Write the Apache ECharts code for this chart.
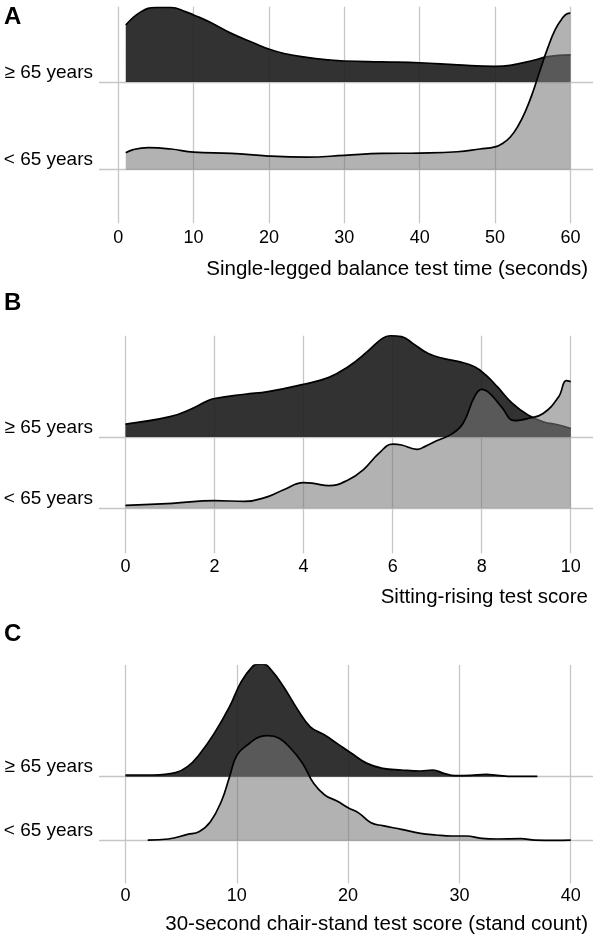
<!DOCTYPE html>
<html><head><meta charset="utf-8">
<script src="https://cdn.jsdelivr.net/npm/echarts@6.0.0/dist/echarts.min.js"></script>
<style>html,body{margin:0;padding:0;background:#fff}#c{width:600px;height:945px}</style>
</head><body><div id="c"></div>
<script>
// ---------- data ----------
const groupLabels = ['< 65 years', '\u2265 65 years'];   // ridge 0 (bottom), ridge 1 (top)
const panelLetters = ['A', 'B', 'C'];
const axisTitles = [
  'Single-legged balance test time (seconds)',
  'Sitting-rising test score',
  '30-second chair-stand test score (stand count)'
];
// tick labels
const balanceTicks = [0, 10, 20, 30, 40, 50, 60];
const sitRiseTicks = [0, 2, 4, 6, 8, 10];
const chairTicks = [0, 10, 20, 30, 40];

// Panel A: single-legged balance (density height in ridge-spacing units)
const balanceOldX = [1, 3, 5, 7, 9, 10, 12, 15, 18, 20, 22, 25, 28, 30, 35, 40, 45, 50, 52, 55, 57, 60];
const balanceOldH = [0.65, 0.80, 0.85, 0.85, 0.80, 0.765, 0.69, 0.555, 0.445, 0.375, 0.325, 0.281, 0.252, 0.24, 0.23, 0.22, 0.196, 0.178, 0.19, 0.245, 0.29, 0.31];
const balanceYoungX = [1, 2, 4, 7, 10, 15, 20, 25, 30, 35, 40, 45, 48, 50, 51, 52, 53, 54, 55, 56, 57, 58, 59, 59.5, 60];
const balanceYoungH = [0.194, 0.23, 0.251, 0.236, 0.20, 0.186, 0.156, 0.144, 0.163, 0.186, 0.19, 0.205, 0.236, 0.26, 0.30, 0.37, 0.49, 0.66, 0.88, 1.14, 1.39, 1.60, 1.735, 1.775, 1.785];

// Panel B: sitting-rising test
const sitRiseOldX = [0, 1, 1.5, 1.82, 2, 2.68, 3.2, 4, 4.57, 5, 5.43, 5.77, 5.95, 6.2, 6.46, 6.8, 7.15, 7.49, 7.84, 8.09, 8.35, 8.69, 9.04, 9.38, 9.73, 10];
const sitRiseOldH = [0.182, 0.285, 0.40, 0.50, 0.54, 0.60, 0.636, 0.74, 0.837, 0.986, 1.197, 1.384, 1.42, 1.407, 1.31, 1.17, 1.10, 1.057, 0.986, 0.87, 0.706, 0.472, 0.31, 0.215, 0.168, 0.12];
const sitRiseYoungX = [0, 1.05, 2, 2.68, 3.2, 3.54, 4, 4.22, 4.57, 5, 5.34, 5.69, 6, 6.2, 6.55, 6.72, 7, 7.32, 7.58, 7.84, 8, 8.18, 8.44, 8.74, 9.04, 9.38, 9.73, 9.9, 10];
const sitRiseYoungH = [0.042, 0.07, 0.107, 0.098, 0.164, 0.257, 0.36, 0.35, 0.318, 0.397, 0.54, 0.77, 0.90, 0.888, 0.827, 0.865, 0.95, 1.04, 1.19, 1.566, 1.669, 1.613, 1.426, 1.23, 1.26, 1.33, 1.566, 1.79, 1.776];

// Panel C: 30-second chair stand
const chairOldX = [0, 2.47, 4.5, 5.57, 6.6, 7.97, 9.35, 10.4, 11.4, 11.9, 12.4, 13.1, 14.2, 15.5, 16.6, 17.9, 19, 20.3, 21.7, 23.1, 24.8, 26.5, 27.6, 28.6, 29.6, 31, 32.4, 33.4, 34.8, 37];
const chairOldH = [0.026, 0.026, 0.0625, 0.156, 0.34, 0.677, 1.094, 1.484, 1.72, 1.76, 1.76, 1.667, 1.406, 1.04, 0.78, 0.65, 0.52, 0.365, 0.208, 0.13, 0.104, 0.089, 0.104, 0.052, 0.016, 0.021, 0.036, 0.021, 0.005, 0.005];
const chairYoungX = [2, 3.85, 5.57, 6.6, 7.63, 8.66, 9.35, 10.03, 11.07, 12.1, 12.8, 13.8, 14.85, 15.9, 16.9, 17.9, 19, 20, 21, 22.06, 23.1, 24.8, 26.5, 27.9, 29.3, 30.6, 32, 33.4, 35.5, 36.8, 38.6, 40];
const chairYoungH = [0.01, 0.026, 0.099, 0.14, 0.297, 0.635, 1.0, 1.34, 1.51, 1.625, 1.64, 1.6, 1.44, 1.21, 0.896, 0.714, 0.62, 0.516, 0.427, 0.28, 0.234, 0.177, 0.115, 0.089, 0.073, 0.073, 0.036, 0.026, 0.031, 0.01, 0.005, 0.01];

// ---------- layout ----------
const FONT = 'Arial, "Liberation Sans", Helvetica, sans-serif';
const panels = [
  { ticks: balanceTicks, oldX: balanceOldX, oldH: balanceOldH, youngX: balanceYoungX, youngH: balanceYoungH,
    xMin: -2.55, xMax: 63.0, yMin: -0.611, yMax: 1.859, top: 6.7, height: 216.6, labelMargin: 6, titleTop: 259, letterTop: 5 },
  { ticks: sitRiseTicks, oldX: sitRiseOldX, oldH: sitRiseOldH, youngX: sitRiseYoungX, youngH: sitRiseYoungH,
    xMin: -0.595, xMax: 10.5, yMin: -0.631, yMax: 2.421, top: 335.7, height: 217.6, labelMargin: 5, titleTop: 587, letterTop: 291 },
  { ticks: chairTicks, oldX: chairOldX, oldH: chairOldH, youngX: chairYoungX, youngH: chairYoungH,
    xMin: -2.38, xMax: 42.0, yMin: -0.666, yMax: 2.745, top: 665, height: 218.3, labelMargin: 4, titleTop: 914, letterTop: 622 }
];

const grid = [], xAxis = [], yAxis = [], series = [], title = [];
const gridColor = '#c6c6c6';
const textColor = '#000';
panels.forEach((p, i) => {
  grid.push({ left: 99, right: 7, top: p.top, height: p.height });
  xAxis.push({
    type: 'value', gridIndex: i, min: p.xMin, max: p.xMax,
    axisLine: { show: false, onZero: false },
    axisTick: { show: false, customValues: p.ticks },
    axisLabel: { customValues: p.ticks, color: textColor, fontSize: 18, fontFamily: FONT, margin: p.labelMargin },
    splitLine: { show: true, lineStyle: { color: gridColor, width: 1.3 } }
  });
  yAxis.push({
    type: 'value', gridIndex: i, min: p.yMin, max: p.yMax,
    axisLine: { show: false, onZero: false },
    axisTick: { show: false, customValues: [0, 1] },
    axisLabel: { customValues: [0, 1], formatter: v => groupLabels[Math.round(v)],
      color: textColor, fontSize: 19, fontFamily: FONT, margin: 6, verticalAlign: 'bottom' },
    splitLine: { show: true, lineStyle: { color: gridColor, width: 1.3 } }
  });
  series.push({
    type: 'line', name: groupLabels[1], xAxisIndex: i, yAxisIndex: i,
    data: p.oldX.map((x, k) => [x, 1 + p.oldH[k]]),
    smooth: 0.45, symbol: 'none', z: 2,
    lineStyle: { color: '#000', width: 1.7 },
    areaStyle: { color: 'rgba(28,28,28,0.9)', origin: 1, opacity: 1 }
  });
  series.push({
    type: 'line', name: groupLabels[0], xAxisIndex: i, yAxisIndex: i,
    data: p.youngX.map((x, k) => [x, p.youngH[k]]),
    smooth: 0.45, symbol: 'none', z: 3,
    lineStyle: { color: '#000', width: 1.7 },
    areaStyle: { color: 'rgba(120,120,120,0.57)', origin: 0, opacity: 1 }
  });
  title.push({ text: panelLetters[i], left: 4, top: p.letterTop, padding: 0,
    textStyle: { fontSize: 24, fontWeight: 'bold', color: '#000', fontFamily: FONT } });
  title.push({ text: axisTitles[i], right: 12, top: p.titleTop, padding: 0,
    textStyle: { fontSize: 20.5, fontWeight: 'normal', color: textColor, fontFamily: FONT } });
});

const chart = echarts.init(document.getElementById('c'), null, { renderer: 'canvas' });
chart.setOption({ animation: false, backgroundColor: '#fff', title, grid, xAxis, yAxis, series });
</script></body></html>
